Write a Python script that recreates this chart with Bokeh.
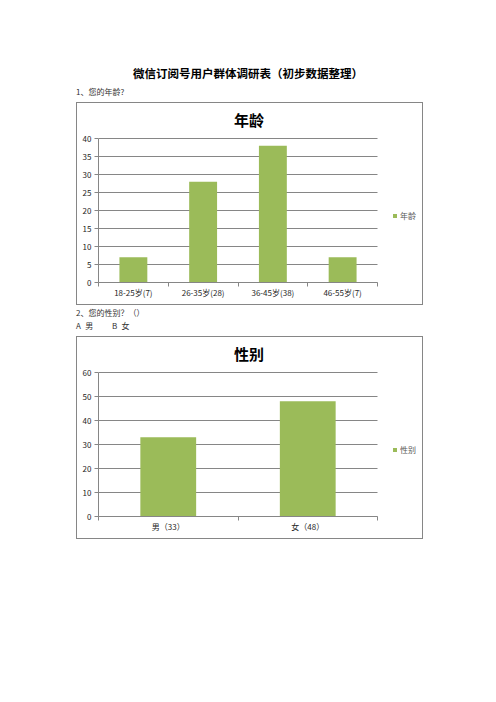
from bokeh.plotting import figure
from bokeh.models import Div, FixedTicker, Range1d, Legend, LegendItem, ColumnDataSource, Label
from bokeh.layouts import column
from bokeh.embed import file_html
from bokeh.resources import INLINE

# ---- data ----
page_title = "微信订阅号用户群体调研表（初步数据整理）"
q1_text = "1、您的年龄?"
q2_text = "2、您的性别？（）"
q2_options = ["A 男", "B 女"]

age_title = "年龄"
age_categories = ["18-25岁(7)", "26-35岁(28)", "36-45岁(38)", "46-55岁(7)"]
age_values = [7, 28, 38, 7]
age_ticks = [0, 5, 10, 15, 20, 25, 30, 35, 40]

gender_title = "性别"
gender_categories = ["男（33）", "女（48）"]
gender_values = [33, 48]
gender_ticks = [0, 10, 20, 30, 40, 50, 60]

BAR = "#9BBB59"
GRID = "#868686"
TXT = "#262626"
CJK = "Noto Sans CJK SC"

W, H = 345, 201
PLOT_W = 279      # width of the axis/grid area in px
FRAME_W = 322     # frame extends right to host the legend
PLOT_H = 144      # height of the axis/grid area in px
FRAME_H = 179     # frame extends up to host the chart title
TITLE_X = 150.5   # title centre, px right of the y axis
TITLE_Y = 16      # title centre, px below the top of the box


def make_chart(title, cats, vals, yticks):
    n = len(cats)
    ytop = yticks[-1]
    centers = [i + 0.5 for i in range(n)]
    src = ColumnDataSource(dict(x=centers, top=vals))
    x_end = n * FRAME_W / PLOT_W
    y_end = ytop * FRAME_H / PLOT_H
    p = figure(width=W, height=H, x_range=Range1d(0, x_end), y_range=Range1d(0, y_end),
               title=None, output_backend="svg", toolbar_location=None,
               min_border_left=21, min_border_right=W - 21 - FRAME_W,
               min_border_top=H - 22 - FRAME_H, min_border_bottom=22,
               outline_line_color=None, margin=(0, 0, 0, 69),
               styles={"outline": "1px solid #868686"})
    # horizontal grid lines limited to the category area
    grid_src = ColumnDataSource(dict(x0=[0] * len(yticks), x1=[n] * len(yticks),
                                     y=yticks))
    p.segment(x0="x0", x1="x1", y0="y", y1="y", source=grid_src,
              line_color=GRID, line_width=1)
    r = p.vbar(x="x", top="top", width=0.4, bottom=0, source=src,
               fill_color=BAR, line_color=None)

    p.add_layout(Label(x=n * TITLE_X / PLOT_W, y=ytop * (FRAME_H - TITLE_Y) / PLOT_H,
                       text=title, text_align="center", text_baseline="middle",
                       text_font=CJK, text_font_size="15px", text_font_style="bold",
                       text_color="#000000"))

    xt = FixedTicker(ticks=centers, minor_ticks=list(range(n + 1)))
    p.xaxis.ticker = xt
    p.xaxis.bounds = (0, n)
    p.xaxis.major_label_overrides = {float(c): lab for c, lab in zip(centers, cats)}
    p.xaxis.major_tick_out = 0
    p.xaxis.major_tick_in = 0
    p.xaxis.minor_tick_out = 4
    p.xaxis.minor_tick_in = 0
    p.xaxis.minor_tick_line_color = GRID
    p.xaxis.major_label_standoff = 0
    p.xaxis.axis_line_color = GRID
    p.xaxis.major_label_text_font = CJK
    p.xaxis.major_label_text_font_size = "8px"
    p.xaxis.major_label_text_color = TXT
    p.xgrid.visible = False
    p.ygrid.visible = False

    yt = FixedTicker(ticks=yticks)
    p.yaxis.ticker = yt
    p.yaxis.bounds = (0, ytop)
    p.yaxis.major_tick_out = 4
    p.yaxis.major_tick_in = 0
    p.yaxis.minor_tick_line_color = None
    p.yaxis.major_tick_line_color = GRID
    p.yaxis.axis_line_color = GRID
    p.yaxis.major_label_standoff = 3
    p.yaxis.major_label_text_font = CJK
    p.yaxis.major_label_text_font_size = "8px"
    p.yaxis.major_label_text_color = TXT

    legend = Legend(items=[LegendItem(label=title, renderers=[r])], location=(294, 61),
                    margin=0, padding=0, spacing=0, glyph_width=5, glyph_height=5,
                    label_height=10, label_standoff=3, border_line_color=None,
                    background_fill_alpha=0, label_text_font=CJK,
                    label_text_font_size="8px", label_text_color="#595959")
    p.add_layout(legend)
    return p


div1 = Div(text=(
    f'<div style="position:relative;width:480px;height:95px;font-family:\'{CJK}\'">'
    f'<div style="position:absolute;left:0;top:59px;width:480px;text-align:center;font-size:11.5px;'
    f'line-height:12px;font-weight:bold;color:#000">{page_title}</div>'
    f'<div style="position:absolute;left:68px;top:79px;font-size:8px;line-height:10px;color:#333;'
    f'white-space:nowrap">{q1_text}</div></div>'), width=480, height=95, margin=0)

div2 = Div(text=(
    f'<div style="position:relative;width:480px;height:33px;font-family:\'{CJK}\'">'
    f'<div style="position:absolute;left:68px;top:4px;font-size:8px;line-height:10px;color:#333;'
    f'white-space:nowrap">{q2_text}</div>'
    f'<div style="position:absolute;left:68px;top:17px;font-size:8px;line-height:10px;color:#333;'
    f'white-space:pre;word-spacing:2.5px">{q2_options[0]}</div>'
    f'<div style="position:absolute;left:104px;top:17px;font-size:8px;line-height:10px;color:#333;'
    f'white-space:pre;word-spacing:2.5px">{q2_options[1]}</div></div>'), width=480, height=33, margin=0)

p1 = make_chart(age_title, age_categories, age_values, age_ticks)
p2 = make_chart(gender_title, gender_categories, gender_values, gender_ticks)

layout = column(div1, p1, div2, p2, spacing=0, margin=(8, 0, 0, 8))
open("out.html", "w").write(file_html(layout, INLINE))
